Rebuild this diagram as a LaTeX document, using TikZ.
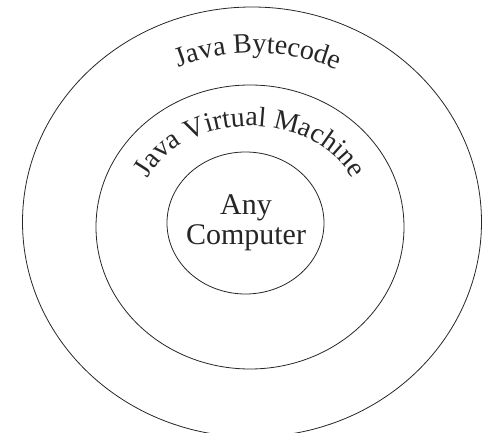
\documentclass[tikz,border=0pt]{standalone}
\usepackage{fontspec}
\setmainfont{Liberation Serif}
\usetikzlibrary{shapes.geometric,decorations.text}
\tikzset{
  ring/.style={draw=black!85, line width=0.8pt, ellipse, inner sep=0pt},
  labeltext/.style={font=\fontsize{30}{30}\selectfont, align=center, text=black!85},
}
\newcommand{\arcfont}{\fontsize{28}{28}\selectfont}
\begin{document}
\begin{tikzpicture}[x=1pt,y=1pt]
\useasboundingbox (0,0) rectangle (488,433);
\node[ring, minimum width=459pt, minimum height=430pt] (outer) at (252,211) {};
\node[ring, minimum width=308pt, minimum height=284pt] (middle) at (250,206) {};
\node[ring, minimum width=157pt, minimum height=142pt] (inner) at (245.5,210) {};
\node[labeltext] (comp) at (246,210) {Any\\Computer};
% curved labels
\coordinate (bc) at (255,210);
\path[decorate, decoration={text along path, text align=center, text color=black!85,
  text={|\arcfont|Java Bytecode}}]
  (bc) ++(150:190pt and 170pt) arc[start angle=150, end angle=28, x radius=190pt, y radius=170pt];
\coordinate (vc) at (250,221);
\path[decorate, decoration={text along path, text align=center, text color=black!85,
  text={|\arcfont|Java Virtual Machine}}]
  (vc) ++(180:111pt and 86pt) arc[start angle=180, end angle=0, x radius=111pt, y radius=86pt];
\end{tikzpicture}
\end{document}
